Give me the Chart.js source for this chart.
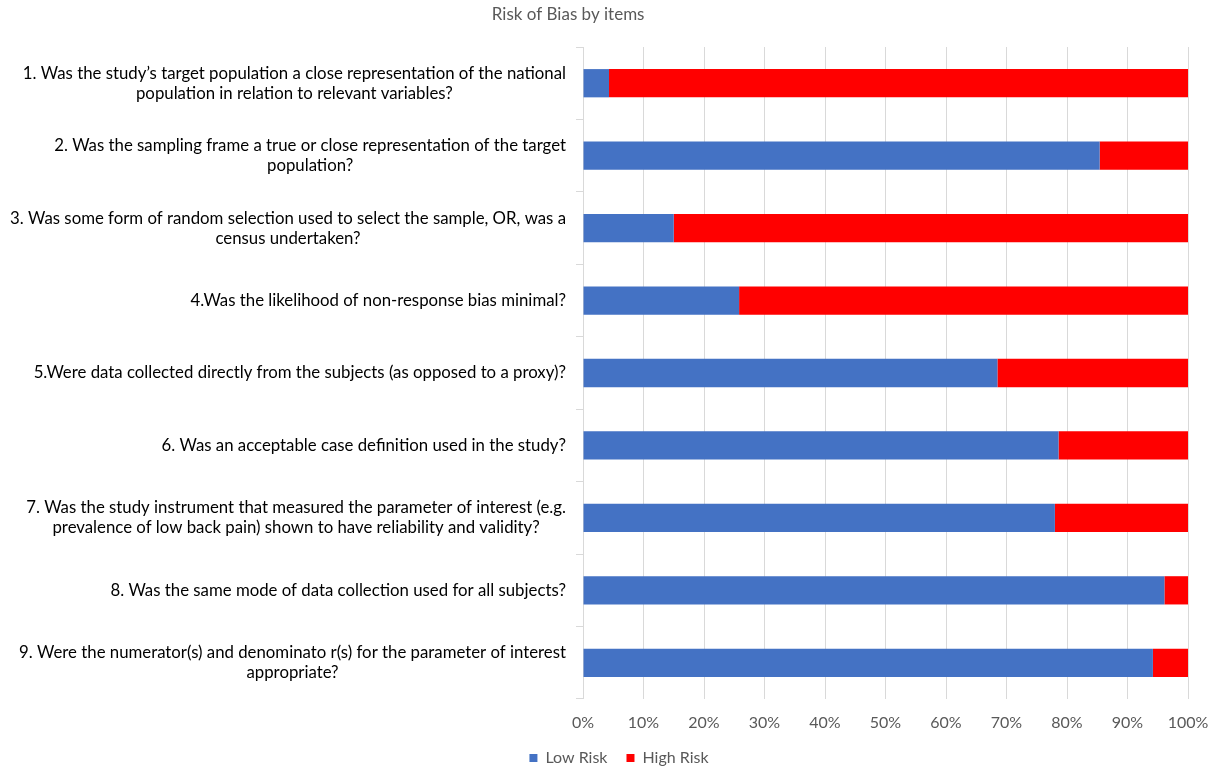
<!DOCTYPE html>
<html>
<head>
<meta charset="utf-8">
<script src="https://cdn.jsdelivr.net/npm/chart.js@4"></script>
<style>
    html, body { margin: 0; padding: 0; background: #fff; }
    #wrap { width: 1214px; height: 767px; }
</style>
</head>
<body>
<div id="wrap"><canvas id="biasChart"></canvas></div>
<script>
const items = [
    ['1. Was the study\u2019s target population a close representation of the national', 'population in relation to relevant variables?'],
    ['2. Was the sampling frame a true or close representation of the target', 'population?'],
    ['3. Was some form of random selection used to select the sample, OR, was a', 'census undertaken?'],
    '4.Was the likelihood of non-response bias minimal?',
    '5.Were data collected directly from the subjects (as opposed to a proxy)?',
    '6. Was an acceptable case definition used in the study?',
    ['7. Was the study instrument that measured the parameter of interest (e.g.', 'prevalence of low back pain) shown to have reliability and validity?'],
    '8. Was the same mode of data collection used for all subjects?',
    ['9. Were the numerator(s) and denominato r(s) for the parameter of interest', 'appropriate?']
];
const lowRisk = [4.3, 85.4, 15.0, 25.8, 68.5, 78.6, 78.0, 96.1, 94.2];
const highRisk = [95.7, 14.6, 85.0, 74.2, 31.5, 21.4, 22.0, 3.9, 5.8];
const percentTicks = [0, 10, 20, 30, 40, 50, 60, 70, 80, 90, 100];

const FONT = "Lato, 'Noto Sans', sans-serif";
const gridColor = '#d9d9d9';
const textGrey = '#595959';

// item questions: block right-aligned to the axis, wrapped lines centred on each other
const itemLabels = {
    id: 'itemLabels',
    afterDraw(chart) {
        const ctx = chart.ctx;
        const y = chart.scales.y;
        ctx.save();
        ctx.font = '16.8px ' + FONT;
        ctx.fillStyle = '#000';
        ctx.textAlign = 'center';
        ctx.textBaseline = 'middle';
        chart.data.labels.forEach((lab, i) => {
            const lines = [].concat(lab);
            const w = Math.max(...lines.map(l => ctx.measureText(l).width));
            const cx = y.right - 17 - w / 2;
            const cy = y.getPixelForTick(i);
            lines.forEach((l, j) => {
                ctx.fillText(l, cx, cy + (j - (lines.length - 1) / 2) * 20);
            });
        });
        ctx.restore();
    }
};

// chart heading, sits a little left of centre
const heading = {
    id: 'heading',
    afterDraw(chart) {
        const ctx = chart.ctx;
        ctx.save();
        ctx.font = '17px ' + FONT;
        ctx.fillStyle = textGrey;
        ctx.textAlign = 'center';
        ctx.textBaseline = 'middle';
        ctx.fillText('Risk of Bias by items', chart.width * 0.468, 15);
        ctx.restore();
    }
};

new Chart(document.getElementById('biasChart'), {
    type: 'bar',
    data: {
        labels: items,
        datasets: [
            {
                label: 'Low Risk',
                data: lowRisk,
                backgroundColor: '#4472c4',
                barPercentage: 0.39,
                categoryPercentage: 1
            },
            {
                label: 'High Risk',
                data: highRisk,
                backgroundColor: '#ff0000',
                barPercentage: 0.39,
                categoryPercentage: 1
            }
        ]
    },
    plugins: [itemLabels, heading],
    options: {
        indexAxis: 'y',
        responsive: true,
        maintainAspectRatio: false,
        animation: false,
        layout: {
            padding: { top: 47, left: 50, right: 26, bottom: -9 }
        },
        scales: {
            x: {
                stacked: true,
                min: 0,
                max: 100,
                afterBuildTicks: scale => {
                    scale.ticks = percentTicks.map(v => ({ value: v }));
                },
                afterFit: scale => {
                    scale.height = 32;
                    scale.paddingRight = 0;
                },
                border: { display: false },
                grid: { color: gridColor, drawTicks: false },
                ticks: {
                    padding: 14,
                    color: textGrey,
                    font: { family: FONT, size: 16 },
                    callback: v => v + '%'
                }
            },
            y: {
                stacked: true,
                afterFit: scale => { scale.width = 533; },
                border: { display: false },
                grid: { color: gridColor, drawOnChartArea: false, drawTicks: true, tickLength: 7, offset: true },
                ticks: { display: false }
            }
        },
        plugins: {
            legend: {
                position: 'bottom',
                labels: {
                    boxWidth: 8,
                    boxHeight: 8,
                    padding: 19,
                    color: textGrey,
                    font: { family: FONT, size: 16 }
                }
            },
            tooltip: { enabled: false }
        }
    }
});
</script>
</body>
</html>
